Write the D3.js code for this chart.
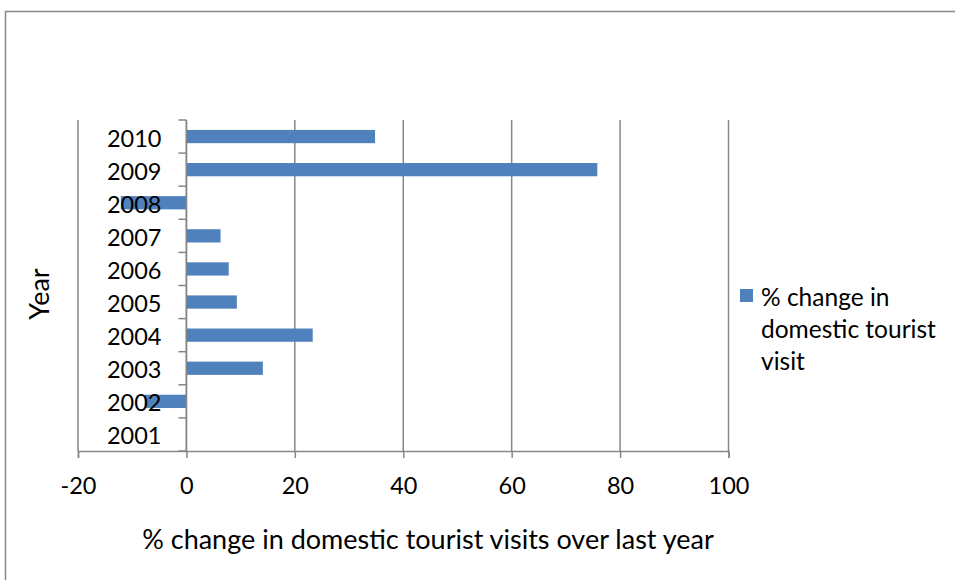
<!DOCTYPE html>
<html>
<head>
<meta charset="utf-8">
<script src="https://cdn.jsdelivr.net/npm/d3@7"></script>
<style>
  html, body { margin: 0; padding: 0; background: #ffffff; }
  svg { display: block; }
  text { font-family: Lato, "Liberation Sans", sans-serif; fill: #000; }
</style>
</head>
<body>
<svg id="chart" width="955" height="580"></svg>
<script>
// Year-on-year % change in domestic tourist visits
const years = ["2001", "2002", "2003", "2004", "2005", "2006", "2007", "2008", "2009", "2010"];
const pctChange = [null, -7.7, 14.1, 23.3, 9.3, 7.8, 6.3, -12.1, 75.8, 34.8];
const xTicks = [-20, 0, 20, 40, 60, 80, 100];
const seriesName = ["% change in", "domestic tourist", "visit"];
const xTitle = "% change in domestic tourist visits over last year";
const yTitle = "Year";

const svg = d3.select("#chart");
const gridColor = "#878787";
const barColor = "#4F81BD";

// outer chart frame
svg.append("rect")
  .attr("x", 5.5).attr("y", 11.5)
  .attr("width", 1000).attr("height", 700)
  .attr("fill", "none").attr("stroke", gridColor).attr("stroke-width", 1.5);

const plot = { left: 78, right: 728.5, top: 120, bottom: 451 };

const x = d3.scaleLinear().domain([-20, 100]).range([plot.left, plot.right]);
const y = d3.scaleBand().domain(years.slice().reverse()).range([plot.top, plot.bottom]).padding(0);

// vertical gridlines
svg.append("g").selectAll("line").data(xTicks).join("line")
  .attr("x1", d => x(d)).attr("x2", d => x(d))
  .attr("y1", plot.top).attr("y2", plot.bottom)
  .attr("stroke", gridColor).attr("stroke-width", 1.5);

// bars
const data = years.map((yr, i) => ({ year: yr, value: pctChange[i] })).filter(d => d.value !== null);
const barH = y.bandwidth() * 0.4;
svg.append("g").selectAll("rect").data(data).join("rect")
  .attr("x", d => x(Math.min(0, d.value)))
  .attr("width", d => Math.abs(x(d.value) - x(0)))
  .attr("y", d => y(d.year) + (y.bandwidth() - barH) / 2)
  .attr("height", barH)
  .attr("fill", barColor);

// bottom axis
const xAxis = d3.axisBottom(x).tickValues(xTicks).tickSize(7).tickPadding(19).tickFormat(d3.format("d"));
const gx = svg.append("g").attr("transform", `translate(0,${plot.bottom})`).call(xAxis);
gx.select(".domain").attr("stroke", gridColor).attr("stroke-width", 1.5);
gx.selectAll(".tick line").attr("stroke", gridColor).attr("stroke-width", 1.5);
gx.selectAll(".tick text").style("font-size", "23.5px").attr("fill", "#000")
  .text(d => d < 0 ? "-" + Math.abs(d) : d);

// category axis at x = 0
const yBoundaries = d3.range(years.length + 1).map(i => plot.top + i * y.step());
const gy = svg.append("g");
gy.append("line")
  .attr("x1", x(0)).attr("x2", x(0)).attr("y1", plot.top).attr("y2", plot.bottom)
  .attr("stroke", gridColor).attr("stroke-width", 1.5);
gy.selectAll("line.tk").data(yBoundaries).join("line").attr("class", "tk")
  .attr("x1", x(0) - 8).attr("x2", x(0)).attr("y1", d => d).attr("y2", d => d)
  .attr("stroke", gridColor).attr("stroke-width", 1.5);
gy.selectAll("text").data(years).join("text")
  .attr("x", x(0) - 25)
  .attr("y", d => y(d) + y.bandwidth() / 2 + 1)
  .attr("text-anchor", "end").attr("dominant-baseline", "central")
  .style("font-size", "23.5px")
  .text(d => d);

// axis titles
svg.append("text")
  .attr("x", 428).attr("y", 538)
  .attr("text-anchor", "middle").attr("dominant-baseline", "central")
  .style("font-size", "27px").text(xTitle);

svg.append("text")
  .attr("transform", "translate(38,294) rotate(-90)")
  .attr("text-anchor", "middle").attr("dominant-baseline", "central")
  .style("font-size", "27px").text(yTitle);

// legend
const lg = svg.append("g");
lg.append("rect").attr("x", 740).attr("y", 289).attr("width", 13).attr("height", 13).attr("fill", barColor);
lg.selectAll("text").data(seriesName).join("text")
  .attr("x", 761).attr("y", (d, i) => 296 + i * 32)
  .attr("dominant-baseline", "central")
  .style("font-size", "24.5px")
  .text(d => d);
</script>
</body>
</html>
